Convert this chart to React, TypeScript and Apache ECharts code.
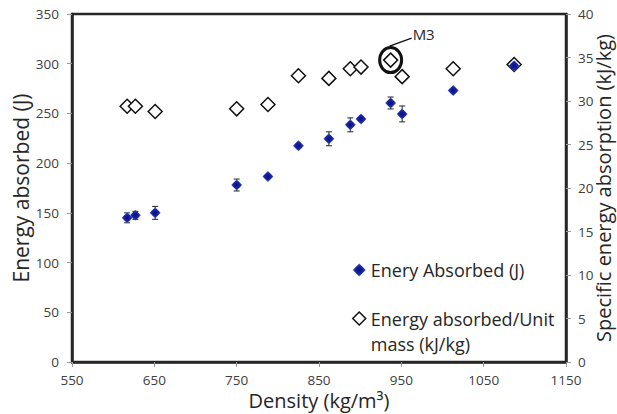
import React, { useEffect, useRef } from "react";
import * as echarts from "echarts";

const densities = [617, 627, 651, 750, 788, 825, 862, 888, 901, 937, 951, 1013, 1087];
const energyAbsorbed = [145, 147.5, 150, 178, 186.5, 217.5, 224.5, 238.5, 244.5, 260.5, 249.5, 273, 298];
const energyError = [5, 4, 6.5, 6, 0, 0, 7, 7, 0, 6, 8, 0, 0];
const specificEnergy = [29.4, 29.4, 28.8, 29.1, 29.6, 32.9, 32.6, 33.7, 33.9, 34.7, 32.8, 33.7, 34.2];
const annotatedIndex = 9;
const annotationLabel = "M3";

const seriesEnergyName = "Enery Absorbed (J)";
const seriesSpecificName = "Energy absorbed/Unit\nmass (kJ/kg)";

const FONT = "Open Sans";

export default function App() {
  const ref = useRef<HTMLDivElement>(null);
  useEffect(() => {
    if (!ref.current) return;
    const chart = echarts.init(ref.current, undefined, { renderer: "svg" });
    const blueFill = new echarts.graphic.RadialGradient(0.5, 0.5, 0.6, [
      { offset: 0, color: "#0a0a80" },
      { offset: 0.55, color: "#1b2aa6" },
      { offset: 1, color: "#7aa3e6" },
    ]);
    const tickLabel = {
      color: "#404040",
      fontFamily: FONT,
      fontSize: 13.5,
      formatter: (v: number) => String(v),
    };
    const nameStyle = { color: "#262626", fontFamily: FONT, fontSize: 21 };
    chart.setOption({
      animation: false,
      grid: {
        left: 72,
        right: 51,
        top: 14,
        bottom: 52,
        show: true,
        outerBoundsMode: "none",
        containLabel: false,
        borderColor: "#262626",
        borderWidth: 2.5,
        backgroundColor: "#fff",
      },
      xAxis: {
        type: "value",
        min: 550,
        max: 1150,
        interval: 100,
        name: "Density (kg/m³)",
        nameLocation: "middle",
        nameGap: 27,
        nameMoveOverlap: false,
        nameTextStyle: { ...nameStyle, fontSize: 20, lineHeight: 22 },
        axisLine: { show: true, lineStyle: { color: "#262626", width: 2.5 } },
        axisTick: { show: true, length: 5, lineStyle: { color: "#999" } },
        axisLabel: { ...tickLabel, margin: 11 },
        splitLine: { show: false },
      },
      yAxis: [
        {
          type: "value",
          min: 0,
          max: 350,
          interval: 50,
          name: "Energy absorbed (J)",
          nameLocation: "middle",
          nameGap: 41,
          nameMoveOverlap: false,
          nameTextStyle: nameStyle,
          axisLine: { show: true, lineStyle: { color: "#262626", width: 2.5 } },
          axisTick: { show: true, length: 5, lineStyle: { color: "#999" } },
          axisLabel: { ...tickLabel, margin: 13 },
          splitLine: { show: false },
        },
        {
          type: "value",
          min: 0,
          max: 40,
          interval: 5,
          position: "right",
          name: "Specific energy absorption (kJ/kg)",
          nameLocation: "middle",
          nameGap: 27,
          nameMoveOverlap: false,
          nameTextStyle: { ...nameStyle, fontSize: 20, lineHeight: 20 },
          axisLine: { show: true, lineStyle: { color: "#262626", width: 2.5 } },
          axisTick: { show: true, length: 5, lineStyle: { color: "#999" } },
          axisLabel: { ...tickLabel, margin: 12 },
          splitLine: { show: false },
        },
      ],
      legend: {
        orient: "vertical",
        left: 347,
        top: 254,
        itemWidth: 13,
        itemHeight: 13,
        itemGap: 0,
        selectedMode: false,
        formatter: (name: string) => (name === seriesSpecificName ? "\n" + name : name),
        textStyle: { fontFamily: FONT, fontSize: 18, color: "#262626", lineHeight: 25 },
        data: [
          {
            name: seriesEnergyName,
            icon: "diamond",
            itemStyle: { color: blueFill, borderWidth: 0 },
            textStyle: { lineHeight: 22 },
          },
          {
            name: seriesSpecificName,
            icon: "diamond",
            itemStyle: { color: "#fff", borderColor: "#111", borderWidth: 1.5 },
          },
        ],
      },
      series: [
        {
          name: seriesSpecificName,
          type: "scatter",
          yAxisIndex: 1,
          symbol: "diamond",
          symbolSize: 14,
          z: 2,
          itemStyle: { color: "#fff", borderColor: "#111", borderWidth: 1.5, opacity: 1 },
          data: densities.map((d, i) => [d, specificEnergy[i]]),
        },
        {
          type: "custom",
          name: "error",
          yAxisIndex: 0,
          z: 3,
          silent: true,
          data: densities.map((d, i) => [d, energyAbsorbed[i], energyError[i]]),
          encode: { x: 0, y: 1 },
          renderItem: (params: any, api: any) => {
            const x = api.value(0);
            const y = api.value(1);
            const e = api.value(2);
            if (!e) return { type: "group", children: [] };
            const top = api.coord([x, y + e]);
            const bot = api.coord([x, y - e]);
            const style = { stroke: "#222", lineWidth: 1 };
            return {
              type: "group",
              children: [
                { type: "line", shape: { x1: top[0], y1: top[1], x2: bot[0], y2: bot[1] }, style },
                { type: "line", shape: { x1: top[0] - 3, y1: top[1], x2: top[0] + 3, y2: top[1] }, style },
                { type: "line", shape: { x1: bot[0] - 3, y1: bot[1], x2: bot[0] + 3, y2: bot[1] }, style },
              ],
            };
          },
        },
        {
          name: seriesEnergyName,
          type: "scatter",
          yAxisIndex: 0,
          symbol: "diamond",
          symbolSize: 11,
          z: 4,
          itemStyle: { color: blueFill, opacity: 1 },
          data: densities.map((d, i) => [d, energyAbsorbed[i]]),
        },
      ],
    });
    const p = chart.convertToPixel({ xAxisIndex: 0, yAxisIndex: 1 }, [
      densities[annotatedIndex],
      specificEnergy[annotatedIndex],
    ]) as number[];
    const cx = p[0];
    const cy = p[1];
    chart.setOption({
      graphic: [
        {
          type: "ellipse",
          shape: { cx, cy, rx: 11, ry: 12.5 },
          style: { fill: "none", stroke: "#111", lineWidth: 3 },
          z: 10,
        },
        {
          type: "line",
          shape: { x1: cx - 1, y1: cy - 14, x2: cx + 21, y2: cy - 22 },
          style: { stroke: "#111", lineWidth: 1.5 },
          z: 10,
        },
        {
          type: "text",
          x: cx + 22,
          y: cy - 26,
          style: {
            text: annotationLabel,
            fontFamily: FONT,
            fontSize: 15,
            fill: "#262626",
            verticalAlign: "middle",
          },
          z: 10,
        },
      ],
    });
    return () => chart.dispose();
  }, []);
  return <div ref={ref} style={{ width: 617, height: 414, position: "absolute", left: 0, top: 0, background: "#fff" }} />;
}
